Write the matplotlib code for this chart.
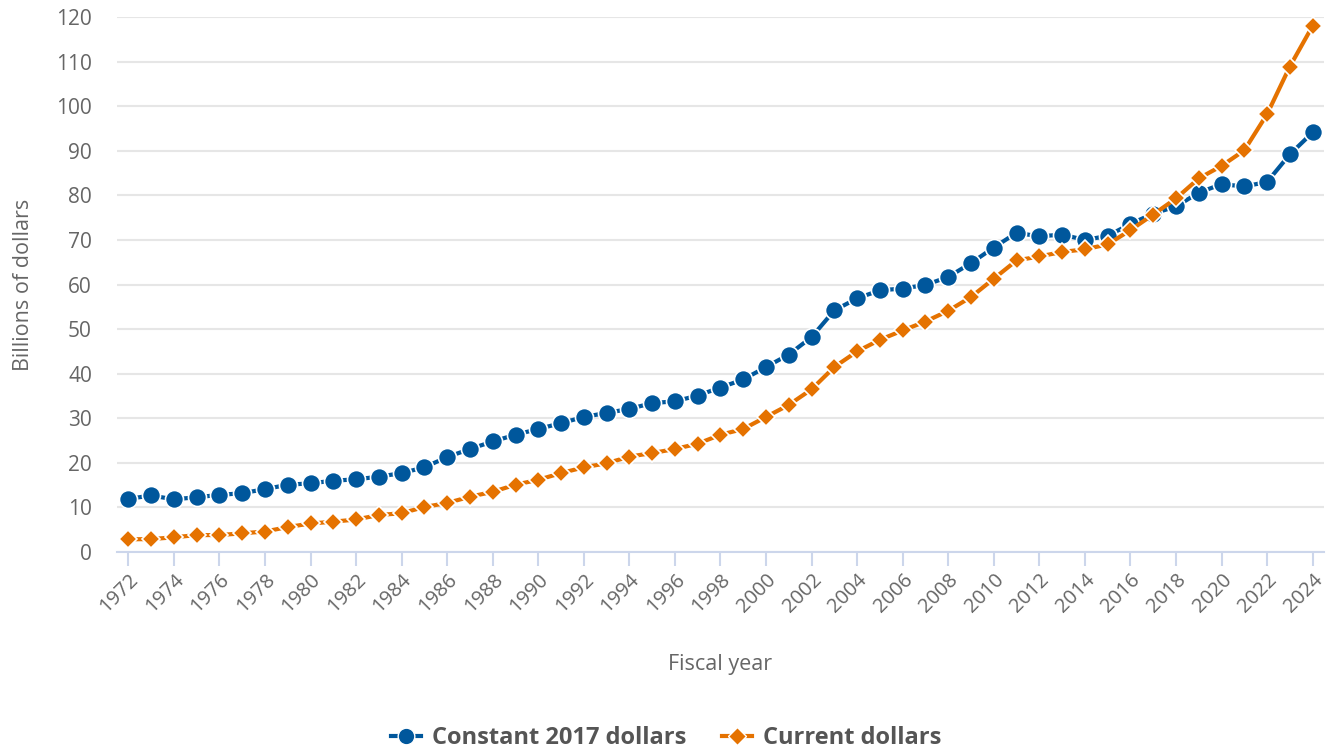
import matplotlib
matplotlib.use("Agg")
import matplotlib.pyplot as plt
from matplotlib.lines import Line2D

# Data (billions of dollars)
years = list(range(1972, 2025))
constant_2017 = [
    11.9, 12.7, 11.8, 12.3, 12.8, 13.2, 14.1, 15.1, 15.4, 16.0,
    16.3, 16.9, 17.7, 19.0, 21.3, 23.1, 24.8, 26.3, 27.6, 28.9,
    30.3, 31.2, 32.1, 33.4, 33.8, 35.1, 36.9, 38.7, 41.5, 44.3,
    48.2, 54.2, 56.9, 58.7, 59.1, 59.9, 61.7, 64.8, 68.3, 71.6,
    70.8, 71.2, 70.0, 70.9, 73.6, 75.9, 77.5, 80.6, 82.5, 82.0,
    83.0, 89.2, 94.1,
]
current = [
    2.85, 2.9, 3.3, 3.8, 3.8, 4.2, 4.6, 5.6, 6.4, 6.8,
    7.3, 8.3, 8.7, 10.1, 11.0, 12.4, 13.5, 15.1, 16.2, 17.7,
    19.0, 19.9, 21.4, 22.2, 23.1, 24.3, 26.3, 27.6, 30.3, 33.0,
    36.5, 41.5, 45.0, 47.6, 49.7, 51.7, 54.1, 57.2, 61.3, 65.4,
    66.3, 67.3, 67.9, 69.0, 72.2, 75.7, 79.3, 83.8, 86.6, 90.1,
    98.2, 108.9, 118.0,
]
series_names = ["Constant 2017 dollars", "Current dollars"]
y_ticks = list(range(0, 121, 10))
x_ticks = list(range(1972, 2025, 2))

BLUE = "#00579c"
ORANGE = "#e57200"
GRID = "#e6e6e6"
AXIS = "#ccd6eb"
TEXT = "#666666"

plt.rcParams["font.family"] = ["Open Sans", "DejaVu Sans"]

fig = plt.figure(figsize=(13.32, 7.53), dpi=100)
ax = fig.add_axes([0.0878, 0.2669, 0.9062, 0.7105])

ax.plot(years, constant_2017, color=BLUE, lw=3, marker="o", ms=13,
        mec="white", mew=1.2, clip_on=False, zorder=3)
ax.plot(years, current, color=ORANGE, lw=3, marker="D", ms=9.5,
        mec="white", mew=1.2, clip_on=False, zorder=4)

ax.set_xlim(1971.5, 2024.5)
ax.set_ylim(0, 120)
ax.set_yticks(y_ticks)
ax.set_xticks(x_ticks)
ax.set_xticklabels([str(y) for y in x_ticks], rotation=45, ha="right",
                   rotation_mode="anchor")

ax.grid(axis="y", color=GRID, lw=1.5)
ax.set_axisbelow(True)
for s in ["top", "right", "left"]:
    ax.spines[s].set_visible(False)
ax.spines["bottom"].set_color(AXIS)
ax.spines["bottom"].set_linewidth(1.5)

ax.tick_params(axis="y", length=0, pad=18, labelsize=15, labelcolor=TEXT)
ax.tick_params(axis="x", length=10, width=1.5, color=AXIS, pad=3,
               labelsize=14.5, labelcolor=TEXT)

ax.set_xlabel("Fiscal year", fontsize=15.5, color=TEXT, labelpad=27)
ax.set_ylabel("Billions of dollars", fontsize=15.5, color=TEXT, labelpad=16)

handles = [
    Line2D([], [], color=BLUE, lw=3, marker="o", ms=12, mec="white", mew=1),
    Line2D([], [], color=ORANGE, lw=3, marker="D", ms=9, mec="white", mew=1),
]
leg = fig.legend(handles, series_names, loc="center", ncol=2,
                 bbox_to_anchor=(0.5, 0.02), frameon=False,
                 handlelength=1.3, columnspacing=1.5, handletextpad=0.45,
                 prop={"weight": "bold", "size": 17})
for t in leg.get_texts():
    t.set_color("#555555")

fig.savefig("out.png", dpi=100)
